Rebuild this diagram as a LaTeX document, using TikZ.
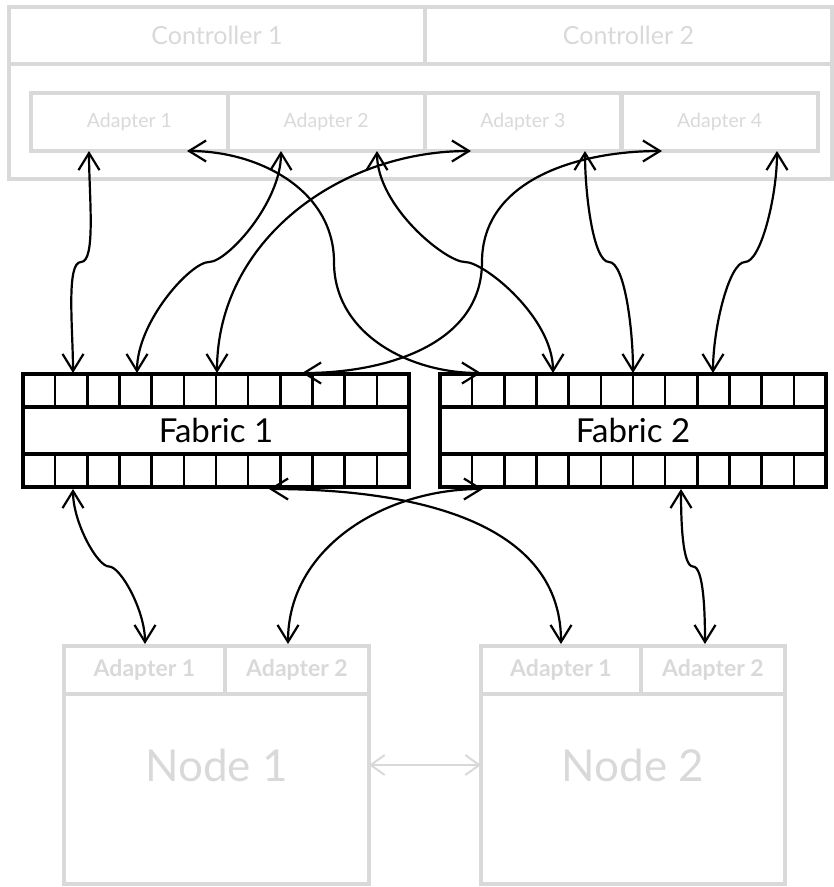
\documentclass[tikz,border=0pt]{standalone}
\usepackage{fontspec}
\setmainfont{Lato}
\usetikzlibrary{arrows.meta}
\usetikzlibrary{calc}
\definecolor{boxgray}{RGB}{217,217,217}

\begin{document}
\begin{tikzpicture}[x=1pt,y=1pt,
  gbox/.style={draw=boxgray,line width=4pt,text=boxgray,inner sep=0pt,outer sep=0pt},
  fabric/.style={draw,line width=4.5pt,minimum width=386pt,minimum height=113pt,inner sep=0pt,outer sep=0pt,font=\fontsize{33}{36}\selectfont},
  link/.style={line width=2.2pt,{Straight Barb[length=17pt,width=21pt]}-{Straight Barb[length=17pt,width=21pt]}}]
  \useasboundingbox (0,0) rectangle (834,-887);

  % controllers and their adapters
  \node[gbox,minimum width=823pt,minimum height=172pt] (ctrl) at (420.5,-93) {};
  \node[gbox,minimum width=416pt,minimum height=57pt,font=\fontsize{25}{28}\selectfont] (ctrl1) at (217,-35.5) {Controller 1};
  \node[gbox,minimum width=407pt,minimum height=57pt,font=\fontsize{25}{28}\selectfont] (ctrl2) at (628.5,-35.5) {Controller 2};
  \foreach \i in {1,...,4}
    \node[gbox,minimum width=197pt,minimum height=58pt,font=\fontsize{19.5}{22}\selectfont] (ad\i) at (129.5+196.75*\i-196.75,-122) {Adapter \i};

  % fabrics
  \node[fabric] (fab1) at (216,-430.5) {Fabric 1};
  \node[fabric] (fab2) at (633,-430.5) {Fabric 2};
  \foreach \f in {fab1,fab2} {
    \draw[line width=4.5pt] ($(\f.north west)+(0,-33)$) -- ($(\f.north east)+(0,-33)$);
    \draw[line width=4.5pt] ($(\f.south west)+(0,33)$) -- ($(\f.south east)+(0,33)$);
    \foreach \k in {1,...,11} {
      \draw[line width=2.5pt] ($(\f.north west)!\k/12!(\f.north east)$) -- ++(0,-33);
      \draw[line width=2.5pt] ($(\f.south west)!\k/12!(\f.south east)$) -- ++(0,33);
    }
  }

  % nodes
  \node[gbox,minimum width=305pt,minimum height=238pt,font=\fontsize{44}{48}\selectfont] (node1) at (216.5,-765) {Node 1};
  \node[gbox,minimum width=304pt,minimum height=238pt,font=\fontsize{44}{48}\selectfont] (node2) at (633,-765) {Node 2};
  \node[gbox,minimum width=161pt,minimum height=48pt,font=\bfseries\fontsize{23}{26}\selectfont] (n1ad1) at (144.5,-670) {Adapter 1};
  \node[gbox,minimum width=144pt,minimum height=48pt,font=\bfseries\fontsize{23}{26}\selectfont] (n1ad2) at (297,-670) {Adapter 2};
  \node[gbox,minimum width=160pt,minimum height=48pt,font=\bfseries\fontsize{23}{26}\selectfont] (n2ad1) at (561,-670) {Adapter 1};
  \node[gbox,minimum width=144pt,minimum height=48pt,font=\bfseries\fontsize{23}{26}\selectfont] (n2ad2) at (713,-670) {Adapter 2};
  \draw[boxgray,line width=2pt,{Straight Barb[length=14pt,width=20pt]}-{Straight Barb[length=14pt,width=20pt]}] (node1.east) -- (node2.west);

  % ports
  \foreach \n/\x/\y in {ad1a/89/151, ad1b/187/151, ad2a/281/151, ad2b/377/151,
                        ad3a/471/151, ad3b/585/151, ad4a/662/151, ad4b/777/151,
                        f1ta/73/373, f1tb/137/373, f1tc/217/373, f1td/302/373,
                        f2ta/481/373, f2tb/553/373, f2tc/633/373, f2td/713/373,
                        f1ba/73/489, f1bb/269/489, f2ba/483/489, f2bb/681/489,
                        n1a/145/644, n1b/288/644, n2a/561/644, n2b/705/644}
    \coordinate (\n) at (\x,-\y);

  % links
  \foreach \a/\b/\i/\o in {ad1a/f1ta/0/180, ad2a/f1tb/0/180, ad2b/f2tb/180/0,
                           ad3b/f2tc/180/0, ad4b/f2td/0/180, f1ba/n1a/180/0, f2bb/n2b/180/0}
    \draw[link] (\a) to[out=-90,in=\i,in looseness=0.35] ($(\a)!.5!(\b)$)
                     to[out=\o,in=90,out looseness=0.35] (\b);
  \draw[link] (ad1b) to[out=0,in=90] ($(ad1b)!.5!(f2ta)$) to[out=-90,in=180] (f2ta);
  \draw[link] (ad4a) to[out=180,in=90] ($(ad4a)!.5!(f1td)$) to[out=-90,in=0] (f1td);
  \draw[link] (ad3a) to[out=180,in=90] (f1tc);
  \draw[link] (f1bb) to[out=0,in=90] (n2a);
  \draw[link] (f2ba) to[out=180,in=90] (n1b);
\end{tikzpicture}
\end{document}
